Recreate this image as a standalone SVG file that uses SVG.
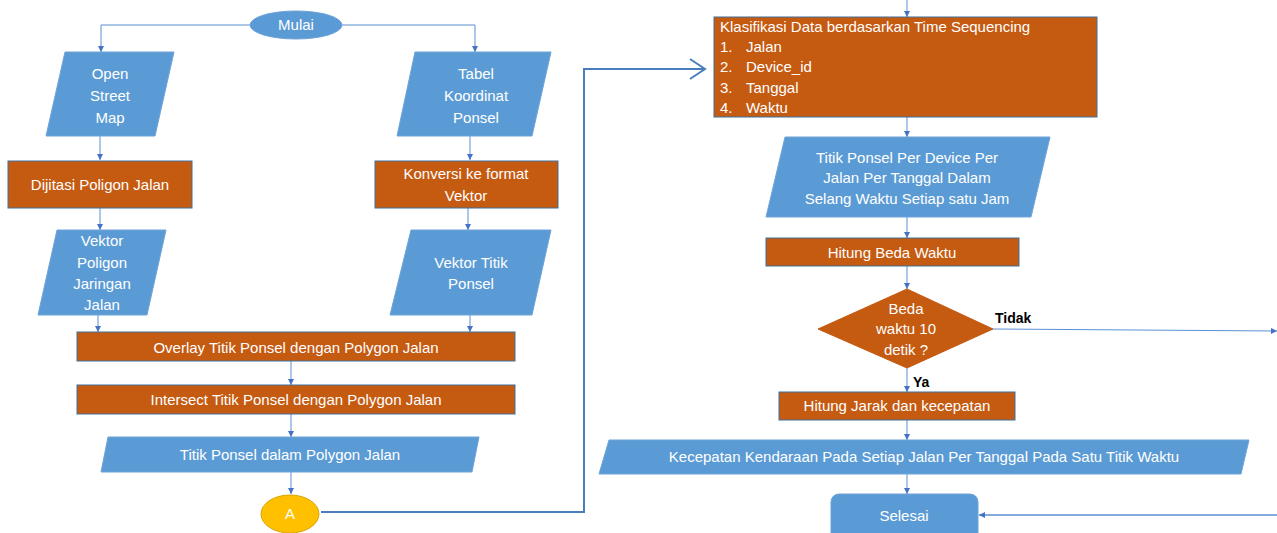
<svg xmlns="http://www.w3.org/2000/svg" width="1277" height="533" viewBox="0 0 1277 533">
<style>
.blue{fill:#5B9BD5;stroke:#6FA3D8;stroke-width:1}
.orange{fill:#C55A11;stroke:#41719C;stroke-width:1}
.t{font-family:"Liberation Sans",Arial,sans-serif;font-size:15px;fill:#FFFFFF;text-anchor:middle}
.tl{font-family:"Liberation Sans",Arial,sans-serif;font-size:15px;fill:#FFFFFF}
.lbl{font-family:"Liberation Sans",Arial,sans-serif;font-size:14px;fill:#000000}
.c{fill:none;stroke:#5B8FD5;stroke-width:1}
.cb{fill:none;stroke:#4A7EBB;stroke-width:2}
</style>
<defs>
<marker id="ah" markerWidth="8" markerHeight="8" refX="6" refY="3" orient="auto" markerUnits="userSpaceOnUse">
<path d="M0,0 L6,3 L0,6 Z" fill="#4472C4"/>
</marker>
</defs>
<g id="connectors">
<path class="c" d="M250,25 H101 V52" marker-end="url(#ah)"/>
<path class="c" d="M342,25 H475 V52" marker-end="url(#ah)"/>
<path class="c" d="M100,136 V160" marker-end="url(#ah)"/>
<path class="c" d="M470,136 V160" marker-end="url(#ah)"/>
<path class="c" d="M100,208 V230" marker-end="url(#ah)"/>
<path class="c" d="M468,208 V230" marker-end="url(#ah)"/>
<path class="c" d="M98,315 V332" marker-end="url(#ah)"/>
<path class="c" d="M470,315 V332" marker-end="url(#ah)"/>
<path class="c" d="M291,361 V385" marker-end="url(#ah)"/>
<path class="c" d="M291,414 V437" marker-end="url(#ah)"/>
<path class="c" d="M291,472 V494" marker-end="url(#ah)"/>
<path class="cb" d="M321,512 H584 V69 H704"/>
<path class="cb" d="M690,59 L705,69 L690,79"/>
<path class="c" d="M907,0 V17" marker-end="url(#ah)"/>
<path class="c" d="M907,117 V137" marker-end="url(#ah)"/>
<path class="c" d="M907,217 V238" marker-end="url(#ah)"/>
<path class="c" d="M907,266 V289" marker-end="url(#ah)"/>
<path class="c" d="M993,329 L1277,331" marker-end="url(#ah)"/>
<path class="c" d="M907,368 V392" marker-end="url(#ah)"/>
<path class="c" d="M907,420 V440" marker-end="url(#ah)"/>
<path class="c" d="M907,474 V494" marker-end="url(#ah)"/>
<path class="c" d="M1277,515 H979" marker-end="url(#ah)" style="stroke-width:1.5"/>
<text class="lbl" x="995" y="323" font-weight="bold">Tidak</text>
<text class="lbl" x="913" y="387" font-weight="bold">Ya</text>
</g>
<g id="mulai">
<ellipse class="blue" cx="296" cy="25" rx="46" ry="14"/>
<text class="t" x="296" y="30">Mulai</text>
</g>
<g id="osm">
<polygon class="blue" points="65,52 174,52 155,136 46,136"/>
<text class="t" x="110" y="79">Open</text>
<text class="t" x="110" y="101">Street</text>
<text class="t" x="110" y="123">Map</text>
</g>
<g id="tabel">
<polygon class="blue" points="415,52 551,52 532,136 397,136"/>
<text class="t" x="476" y="79">Tabel</text>
<text class="t" x="476" y="101">Koordinat</text>
<text class="t" x="476" y="123">Ponsel</text>
</g>
<g id="dijitasi">
<rect class="orange" x="8" y="161" width="184" height="47"/>
<text class="t" x="100" y="190">Dijitasi Poligon Jalan</text>
</g>
<g id="konversi">
<rect class="orange" x="375" y="161" width="183" height="47"/>
<text class="t" x="466" y="179">Konversi ke format</text>
<text class="t" x="466" y="201">Vektor</text>
</g>
<g id="vektorpoligon">
<polygon class="blue" points="57,230 166,230 147,315 38,315"/>
<text class="t" x="102" y="246">Vektor</text>
<text class="t" x="102" y="268">Poligon</text>
<text class="t" x="102" y="289">Jaringan</text>
<text class="t" x="102" y="310">Jalan</text>
</g>
<g id="vektortitik">
<polygon class="blue" points="411,230 551,230 532,315 390,315"/>
<text class="t" x="471" y="268">Vektor Titik</text>
<text class="t" x="471" y="289">Ponsel</text>
</g>
<g id="overlay">
<rect class="orange" x="77" y="332" width="438" height="29"/>
<text class="t" x="296" y="353">Overlay Titik Ponsel dengan Polygon Jalan</text>
</g>
<g id="intersect">
<rect class="orange" x="77" y="385" width="438" height="29"/>
<text class="t" x="296" y="405">Intersect Titik Ponsel dengan Polygon Jalan</text>
</g>
<g id="titikpolygon">
<polygon class="blue" points="108,437 479,437 472,472 101,472"/>
<text class="t" x="290" y="460">Titik Ponsel dalam Polygon Jalan</text>
</g>
<g id="a">
<ellipse cx="290" cy="514" rx="29" ry="19" fill="#FFC000" stroke="#D9A300" stroke-width="1"/>
<text class="t" x="290" y="519">A</text>
</g>
<g id="klasifikasi">
<rect class="orange" x="714" y="17" width="383" height="100"/>
<text class="tl" x="720" y="32">Klasifikasi Data berdasarkan Time Sequencing</text>
<text class="tl" x="720" y="52">1.</text><text class="tl" x="746" y="52">Jalan</text>
<text class="tl" x="720" y="72">2.</text><text class="tl" x="746" y="72">Device_id</text>
<text class="tl" x="720" y="93">3.</text><text class="tl" x="746" y="93">Tanggal</text>
<text class="tl" x="720" y="113">4.</text><text class="tl" x="746" y="113">Waktu</text>
</g>
<g id="titikperdevice">
<polygon class="blue" points="785,137 1050,137 1031,217 766,217"/>
<text class="t" x="907" y="163">Titik Ponsel Per Device Per</text>
<text class="t" x="907" y="183">Jalan Per Tanggal Dalam</text>
<text class="t" x="907" y="204">Selang Waktu Setiap satu Jam</text>
</g>
<g id="hitungbeda">
<rect class="orange" x="766" y="238" width="253" height="28"/>
<text class="t" x="892" y="258">Hitung Beda Waktu</text>
</g>
<g id="keputusan">
<polygon class="orange" points="907,289 993,329 907,368 818,329" style="stroke:#C55A11"/>
<text class="t" x="906" y="314">Beda</text>
<text class="t" x="906" y="334">waktu 10</text>
<text class="t" x="906" y="355">detik ?</text>
</g>
<g id="hitungjarak">
<rect class="orange" x="779" y="392" width="236" height="28"/>
<text class="t" x="897" y="411">Hitung Jarak dan kecepatan</text>
</g>
<g id="kecepatan">
<polygon class="blue" points="609,440 1249,440 1241,474 599,474"/>
<text class="t" x="924" y="462">Kecepatan Kendaraan Pada Setiap Jalan Per Tanggal Pada Satu Titik Waktu</text>
</g>
<g id="selesai">
<rect class="blue" x="831" y="494" width="147" height="50" rx="8"/>
<text class="t" x="904" y="521">Selesai</text>
</g>
</svg>
